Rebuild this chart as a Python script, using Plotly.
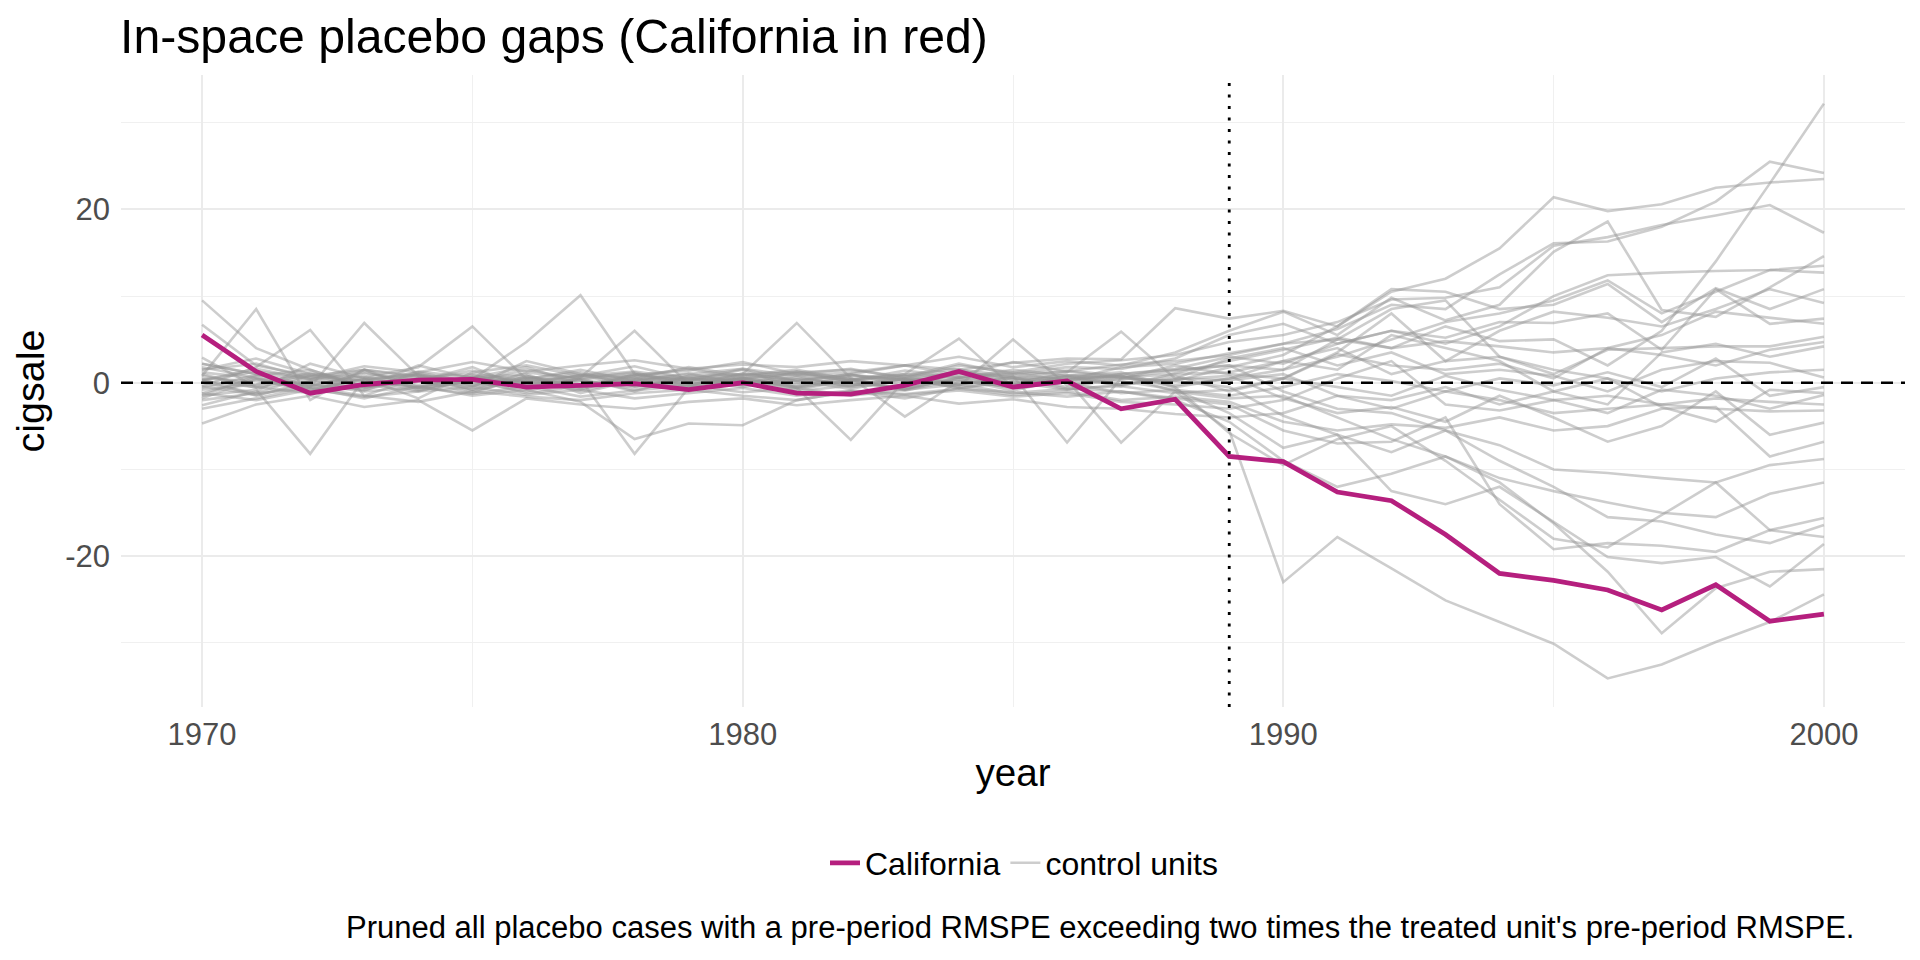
import plotly.graph_objects as go

years = list(range(1970, 2001))
treat_year = 1989

x_tickvals = [1970, 1980, 1990, 2000]
y_tickvals = [-20, 0, 20]
y_ticktext = ["-20", "0", "20"]

california = [5.5, 1.3, -1.2, -0.2, 0.3, 0.4, -0.5, -0.3, -0.1, -0.8, 0.0, -1.2, -1.3, -0.3, 1.3, -0.5, 0.2, -3.0, -1.9,
              -8.5, -9.1, -12.6, -13.6, -17.5, -22.0, -22.8, -23.9, -26.2, -23.3, -27.5, -26.7]

# control units: pre-period (1970-1988) + post-period (1989-2000)
u01 = [1.2, 0.5, -0.8, 0.4, 1.0, -0.3, 0.6, 0.2, -0.5, 0.8, 0.3, -0.2, 0.9, 0.4, -0.6, 0.2, 0.7, -0.4, 1.1,
       2.5, 3.8, 5.2, 4.0, 6.5, 4.8, 5.0, 2.0, 6.0, 14.0, 23.0, 32.2]
u02 = [-1.5, 0.8, 1.5, -0.5, 0.2, 1.8, -0.7, 0.5, 1.2, -0.3, 0.9, 1.5, 0.4, -0.8, 0.6, 1.2, 0.3, 1.8, 2.2,
       3.4, 4.5, 6.2, 9.0, 8.5, 12.5, 16.1, 16.3, 18.0, 20.9, 25.5, 24.2]
u03 = [2.9, -0.5, -1.2, 1.5, 0.8, -1.0, 0.5, 1.2, -0.4, 0.2, 1.5, -0.6, 0.3, 0.9, 1.6, -0.2, 0.8, 0.5, 0.2,
       1.8, 3.2, 6.5, 10.5, 12.0, 15.5, 21.4, 19.8, 20.6, 22.5, 23.1, 23.5]
u04 = [0.3, 1.6, 0.4, -0.9, 1.3, 0.6, 1.8, -0.2, 0.9, 1.4, 2.4, 1.0, 1.6, 0.5, 2.0, 1.2, 2.2, 2.6, 3.2,
       4.7, 5.5, 7.0, 9.6, 9.8, 11.0, 15.8, 16.8, 18.2, 19.3, 20.5, 17.3]
u05 = [-2.6, -1.0, 2.2, 0.5, -1.8, 1.2, 2.0, 0.8, 1.9, 0.4, 1.6, 0.2, 1.0, 2.0, 3.0, 1.8, 2.5, 2.0, 3.5,
       6.0, 8.2, 5.5, 9.8, 7.2, 9.0, 15.1, 18.6, 8.4, 7.6, 11.0, 14.6]
u06 = [9.5, 4.0, 1.5, -0.5, 2.0, 0.5, 0.8, -0.8, 1.0, 0.2, -0.5, 0.6, -0.4, 0.8, -0.2, 0.5, 0.1, 1.0, 1.6,
       3.0, 2.2, 4.5, 6.0, 4.5, 6.5, 10.0, 12.4, 12.7, 12.9, 13.0, 13.5]
u07 = [0.8, 8.5, -2.0, 1.5, -0.5, 0.6, 1.0, -1.2, 0.3, 1.1, -0.2, 1.3, 0.1, -0.6, 0.4, -0.9, 0.5, 0.8, -0.3,
       0.5, 1.5, 3.0, 5.0, 7.0, 8.0, 9.5, 11.8, 8.0, 10.5, 13.0, 12.7]
u08 = [1.5, 2.2, 0.5, 1.9, 1.2, 2.4, 1.3, 2.0, 2.6, 1.6, 2.1, 1.8, 2.5, 2.0, 1.5, 2.3, 2.8, 2.7, 8.6,
       7.4, 8.3, 6.5, 10.8, 10.5, 8.5, 9.0, 11.4, 7.0, 10.9, 8.5, 10.8]
u09 = [-0.4, 1.8, 6.1, -1.5, 0.6, -0.8, 1.2, 0.5, -1.0, 0.8, 1.0, 6.9, 0.5, -0.8, 1.2, 0.6, -0.5, 0.5, 2.0,
       1.0, 0.5, 3.5, 8.0, 2.5, 6.0, 8.2, 7.5, 6.5, 8.5, 10.8, 9.2]
u10 = [2.2, 1.0, -0.5, 6.9, 0.8, -0.5, 2.5, 1.0, 0.5, 1.8, 0.8, 1.2, 1.5, 0.7, 2.2, 1.0, 1.8, 1.6, 2.8,
       5.5, 6.8, 4.5, 6.0, 5.2, 7.0, 6.9, 8.0, 3.8, 10.8, 6.8, 7.4]
u11 = [1.5, 2.8, 1.0, 0.6, 1.8, 6.5, 0.4, 1.5, 0.2, 1.0, 1.6, 0.8, 1.2, 2.0, 0.9, 2.4, 1.3, 2.1, 2.5,
       3.2, 4.5, 5.0, 4.0, 4.8, 4.2, 3.5, 4.0, 5.5, 8.2, 7.5, 6.8]
u12 = [0.0, -1.2, 0.8, 1.5, -0.8, 0.4, 4.7, 10.1, 1.0, -0.5, 0.7, 0.2, 1.0, -0.4, 1.5, 0.8, 0.3, 1.0, 1.5,
       2.0, 1.5, 5.0, 8.5, 9.5, 3.0, 1.0, 3.8, 4.0, 4.2, 4.2, 5.3]
u13 = [-1.2, 0.5, -0.3, 0.8, -0.6, 0.2, -1.0, 0.6, 6.0, -0.2, 0.5, -0.8, 0.3, 1.0, 5.1, -0.5, 0.4, -0.2, 0.8,
       -1.0, 0.5, 3.3, 2.0, 1.5, 2.2, 0.5, 4.0, 3.2, 2.0, 3.8, 4.7]
u14 = [-0.8, -0.2, 1.2, -0.5, 0.3, -1.2, 0.8, -0.6, 0.4, -0.3, 1.1, 0.2, -0.7, 0.5, -0.4, 5.0, -0.3, 0.8, -0.5,
       0.5, 2.5, 1.5, 5.5, 4.0, 2.5, -1.0, -2.5, 3.5, 4.5, 3.0, 4.2]
u15 = [1.0, -0.6, 0.3, 1.2, -0.3, 0.7, 0.1, 0.9, -0.4, 0.5, 0.2, -0.5, 0.8, 0.3, 0.6, -0.1, 1.2, 5.9, 0.5,
       2.8, 4.0, 2.0, 3.5, 1.0, 1.5, 0.8, -1.0, 1.5, 2.5, 2.3, 0.6]
m01 = [0.3, 1.3, 0.6, -0.4, 1.0, 0.2, 1.5, 0.4, 0.8, 1.6, 0.5, 1.1, 0.3, 1.4, 0.7, 1.0, 1.3, 0.6, 1.0,
       1.2, 2.5, 4.0, 1.0, 2.5, 3.0, 1.5, 0.5, -1.0, 0.5, 1.2, 1.5]
m02 = [-0.4, -1.4, -0.2, -1.0, -0.5, -1.3, -0.4, -1.6, -0.9, -0.3, -1.1, -0.6, -1.5, -0.8, -0.2, -1.2, -0.7, -0.4, -1.2,
       -0.8, 0.5, -0.5, -1.5, 0.8, -0.8, -2.0, -1.5, -2.5, -1.8, -2.2, -2.5]
l01 = [0.5, 0.2, -0.6, 0.4, 0.9, -0.2, 0.3, -0.5, 0.6, -0.1, 0.4, 0.0, -0.3, 0.5, 0.1, -0.4, 0.6, 0.2, -0.8,
       -1.5, -0.5, 1.0, 0.2, -1.0, 0.5, -0.3, 1.2, -0.5, 2.8, -1.5, -0.5]
l02 = [-1.5, -0.8, -8.2, 0.5, -0.9, 0.3, -1.2, -0.4, 0.6, -0.8, 0.2, -1.0, -0.3, 0.4, -0.6, 0.1, -0.8, -0.2, 0.5,
       0.3, 1.0, -1.5, -2.0, -0.5, -2.5, -1.0, 0.5, -2.8, -4.5, -0.8, -1.2]
l03 = [-3.0, -1.8, -0.5, -1.5, -2.2, -1.0, -1.6, -2.0, -1.2, -0.8, -1.5, -2.0, -1.0, -1.4, -0.9, -1.6, -1.2, -2.2, -2.5,
       -3.0, -2.0, 0.5, 2.5, -2.5, -3.2, -2.0, -3.5, -0.8, -1.5, -3.0, -1.4]
l04 = [-4.7, -2.5, -1.5, -2.8, -2.0, -5.5, -1.8, -2.5, -3.0, -2.2, -1.8, -2.6, -2.0, -1.5, -2.4, -1.9, -2.8, -3.0, -3.6,
       -4.0, -3.5, -1.5, -3.0, -1.0, -2.0, -3.5, -3.0, -2.5, -3.0, -3.3, -3.2]
l05 = [0.2, -0.5, 0.8, -0.2, -1.0, 0.5, -0.3, 0.4, -8.2, -0.6, 0.3, -0.4, 0.6, -3.9, 0.2, -0.5, 0.8, -0.2, 0.4,
       0.8, -1.8, -3.5, -2.8, -4.5, -1.5, -4.0, -6.8, -5.0, -1.0, -6.0, -4.6]
l06 = [-2.0, -1.2, -0.6, -1.8, -0.4, -1.5, -0.8, -2.2, -6.5, -4.7, -4.9, -2.0, -1.0, -1.8, -0.6, -1.4, -1.0, -2.0, -1.6,
       -2.2, -4.5, -5.5, -4.8, -5.2, -4.0, -5.5, -5.0, -3.0, -2.8, -8.5, -6.8]
l07 = [0.8, -0.3, 1.0, 0.2, -0.5, 0.6, -0.2, 0.9, 0.1, -0.4, 0.5, -0.6, -6.6, 0.3, -0.2, 0.8, -6.9, 0.5, 0.2,
       -0.5, -3.8, -6.0, -8.0, -5.5, -7.2, -10.0, -10.4, -11.0, -11.5, -9.5, -8.8]
l08 = [-0.6, 0.9, -0.2, -0.8, 0.5, -0.4, 0.2, -0.9, 0.3, 0.6, -0.3, 0.4, -0.1, -0.7, 0.6, -0.2, 0.3, -6.9, -1.0,
       -1.8, -1.5, -4.0, -6.5, -8.5, -11.0, -12.5, -13.8, -15.0, -15.5, -12.8, -11.5]
l09 = [1.8, 0.6, -0.4, 1.1, 0.3, 1.4, -0.2, 0.7, 1.0, 0.2, 0.9, 1.3, 0.4, 1.0, 0.6, 1.5, 0.8, 1.2, -0.5,
       -5.8, -9.5, -6.5, -5.0, -9.0, -13.5, -18.0, -19.0, -15.2, -11.5, -17.0, -15.6]
l10 = [6.7, 2.0, 0.8, 0.2, 1.2, 0.0, 0.6, -0.4, 0.8, 0.3, 0.5, 1.0, 0.2, 0.7, 1.1, 0.4, 0.9, 0.6, 1.4,
       2.0, -1.0, -3.0, -3.5, -5.5, -9.0, -12.0, -15.5, -16.0, -17.5, -18.5, -16.4]
l11 = [-1.2, -2.0, -0.8, -1.6, -1.0, -0.5, -1.4, -0.8, -1.8, -1.2, -0.6, -1.5, -0.9, -1.3, -0.7, -1.1, -1.6, -1.0, -1.8,
       -2.5, -5.5, -7.0, -6.8, -4.0, -14.0, -19.2, -18.5, -18.8, -19.5, -17.0, -17.8]
l12 = [0.4, -1.5, 0.2, -0.6, 0.9, -0.8, 0.5, -0.3, 0.2, -1.0, 0.6, -0.5, 0.3, -0.9, 0.4, -0.6, 0.1, -1.2, -0.8,
       -3.5, -7.5, -6.0, -12.5, -14.0, -12.0, -16.0, -20.1, -20.8, -20.1, -23.5, -18.6]
l13 = [-1.8, 0.4, -1.0, 0.6, -0.6, 0.9, -0.4, 0.3, -0.8, 0.5, -0.2, 0.8, -0.5, 0.2, -0.3, 0.6, -0.7, -1.0, -2.0,
       -4.5, -9.0, -12.0, -10.5, -8.5, -11.5, -16.2, -21.8, -28.9, -23.7, -21.8, -21.5]
l14 = [2.2, 1.0, 0.4, 1.5, 0.6, 1.0, 0.2, 0.8, 1.3, 0.5, 1.0, 0.4, 0.9, 0.3, 1.2, 0.6, 1.4, 0.8, -1.0,
       -5.5, -23.0, -17.8, -21.4, -25.1, -27.6, -30.1, -34.1, -32.5, -29.9, -27.6, -24.4]

controls = [u01, u02, u03, u04, u05, u06, u07, u08, u09, u10, u11, u12, u13, u14, u15,
            m01, m02, l01, l02, l03, l04, l05, l06, l07, l08, l09, l10, l11, l12, l13, l14]

title_text = "In-space placebo gaps (California in red)"
caption_text = ("Pruned all placebo cases with a pre-period RMSPE exceeding two times "
                "the treated unit's pre-period RMSPE.")

FONT = "Liberation Sans, Arial, Helvetica, sans-serif"
GRAY = "rgba(150,150,150,0.48)"
RED = "#B51F7E"

fig = go.Figure()
for i, series in enumerate(controls):
    fig.add_trace(go.Scatter(
        x=years, y=series, mode="lines",
        line=dict(color=GRAY, width=2.6),
        name="control units", legendgroup="control",
        showlegend=(i == 0), legendrank=2, hoverinfo="skip"))

fig.add_trace(go.Scatter(
    x=years, y=california, mode="lines",
    line=dict(color=RED, width=4.8),
    name="California", legendgroup="cal", legendrank=1))

fig.add_hline(y=0, line=dict(color="black", width=2.4, dash="12px,8px"))
fig.add_vline(x=treat_year, line=dict(color="black", width=2.8, dash="3px,8.5px"))

fig.update_layout(
    width=1920, height=960,
    paper_bgcolor="white", plot_bgcolor="white",
    margin=dict(l=113, r=23, t=67, b=261),
    font=dict(family=FONT, size=31, color="black"),
    title=dict(text=title_text, x=112 / 1920, xref="container", xanchor="left",
               y=1 - 28 / 960, yref="container", yanchor="middle",
               font=dict(size=48.2, color="black")),
    showlegend=True,
    legend=dict(orientation="h", x=1016 / 1920, xref="container", xanchor="center",
                y=1 - 855 / 960, yref="container", yanchor="middle",
                font=dict(size=32, color="black"), itemwidth=30,
                traceorder="normal"),
    xaxis=dict(range=[1968.5, 2001.5], tickvals=x_tickvals, automargin=False,
               showgrid=True, gridcolor="#EBEBEB", gridwidth=2.2,
               minor=dict(tickvals=[1975, 1985, 1995], showgrid=True, gridcolor="#F0F0F0", gridwidth=1.1),
               zeroline=False, showline=False, ticks="",
               tickfont=dict(size=31, color="#4D4D4D"), ticklabelstandoff=6,
               title=dict(text="year", font=dict(size=38.6, color="black"), standoff=7)),
    yaxis=dict(range=[-37.4, 35.5], tickvals=y_tickvals, ticktext=y_ticktext, automargin=False,
               showgrid=True, gridcolor="#EBEBEB", gridwidth=2.2,
               minor=dict(tickvals=[-30, -10, 10, 30], showgrid=True, gridcolor="#F0F0F0", gridwidth=1.1),
               zeroline=False, showline=False, ticks="",
               tickfont=dict(size=31, color="#4D4D4D"), ticklabelstandoff=10,
               title=dict(text="cigsale", font=dict(size=39.5, color="black"), standoff=22)),
)

fig.add_annotation(text=caption_text, xref="paper", yref="paper",
                   x=(1848 - 113) / (1920 - 113 - 23), y=(699 - 920) / (699 - 67),
                   xanchor="right", yanchor="middle", showarrow=False,
                   font=dict(size=31, color="black"))

fig.write_html("out.html")
